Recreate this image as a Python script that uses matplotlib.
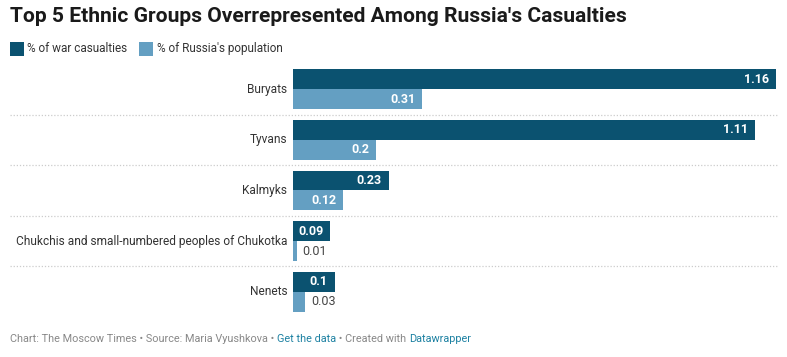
import matplotlib
matplotlib.use("Agg")
import matplotlib.pyplot as plt
import matplotlib.transforms as mtransforms
from matplotlib.patches import Rectangle
from matplotlib.text import Annotation

plt.rcParams['font.family'] = ['Roboto', 'DejaVu Sans']

categories = ["Buryats", "Tyvans", "Kalmyks",
              "Chukchis and small-numbered peoples of Chukotka", "Nenets"]
casualties = [1.16, 1.11, 0.23, 0.09, 0.1]
population = [0.31, 0.2, 0.12, 0.01, 0.03]
series_names = ["% of war casualties", "% of Russia's population"]

DARK = "#0b5270"
LIGHT = "#649fc2"
W, H = 787, 357

fig = plt.figure(figsize=(W / 100, H / 100), dpi=100)
fig.patch.set_facecolor("white")

def fx(px):
    return px / W

def fy(py):
    return 1 - py / H

ax = fig.add_axes([fx(293), fy(317), fx(776) - fx(293), fy(64) - fy(317)])
ax.set_xlim(0, 1.16)
ax.set_ylim(len(categories) - 0.5, -0.5)
ax.axis("off")

bh = 0.395
for i, (c, p) in enumerate(zip(casualties, population)):
    for val, off, col in ((c, -bh / 2, DARK), (p, bh / 2, LIGHT)):
        ax.barh(i + off, val, height=bh, color=col, linewidth=0)
        lab = f"{val:g}"
        if val >= 0.05:
            ax.annotate(lab, (val, i + off), xytext=(-5, 0), textcoords="offset points",
                        ha="right", va="center", color="white", fontsize=9,
                        fontweight="bold")
        else:
            ax.annotate(lab, (val, i + off), xytext=(4, 0), textcoords="offset points",
                        ha="left", va="center", color="#444444", fontsize=9)
    ax.annotate(categories[i], (0, i), xytext=(-4, 0), textcoords="offset points",
                ha="right", va="center", color="#333333", fontsize=8.55)

# dotted separators
tr = mtransforms.blended_transform_factory(fig.transFigure, ax.transData)
for i in range(len(categories) - 1):
    ax.plot([fx(10), fx(777)], [i + 0.5, i + 0.5], transform=tr, clip_on=False,
            color="#cccccc", linestyle=(0, (1, 1.5)), linewidth=0.9)

# title
fig.text(fx(10), fy(17), "Top 5 Ethnic Groups Overrepresented Among Russia's Casualties",
         fontsize=15.1, fontweight="bold", color="#1a1a1a", va="center", ha="left")

# legend
for (x0, tx, name, col) in ((10, 27, series_names[0], DARK), (139, 157, series_names[1], LIGHT)):
    fig.patches.append(Rectangle((fx(x0), fy(56)), fx(14), fy(42) - fy(56),
                                 transform=fig.transFigure, color=col, linewidth=0))
    fig.text(fx(tx), fy(48.5), name, fontsize=8.5, color="#333333", va="center", ha="left")

# footer
pieces = [("Chart: The Moscow Times • Source: Maria Vyushkova • ", "#888888"),
          ("Get the data", "#1d81a2"),
          (" • Created with ", "#888888"),
          ("Datawrapper", "#1d81a2")]
anchor = fig.text(fx(10), fy(339), pieces[0][0], fontsize=7.8, color=pieces[0][1],
                  va="center", ha="left")
for txt, col in pieces[1:]:
    anchor = fig.add_artist(Annotation(txt, xy=(1, 0.5), xycoords=anchor,
                                       va="center", ha="left", fontsize=7.8, color=col))

fig.savefig("out.png", dpi=100, facecolor="white")
